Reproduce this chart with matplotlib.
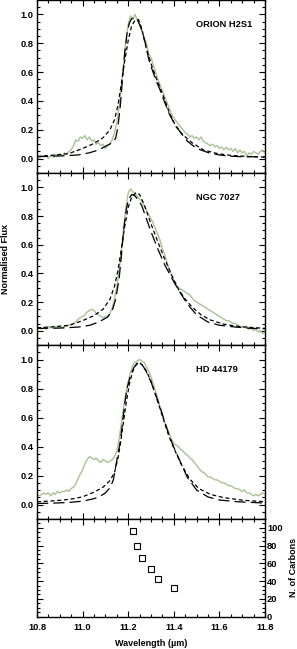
import numpy as np
import matplotlib
matplotlib.use("Agg")
import matplotlib.pyplot as plt
from matplotlib.ticker import MultipleLocator

plt.rcParams['font.family'] = ['Liberation Sans', 'DejaVu Sans']

# ---------------- data ----------------
wave = np.round(np.arange(10.80, 11.8001, 0.01), 2)

orion_obs = [0.01, 0.00, 0.02, 0.01, 0.02, 0.00, 0.02, 0.01, 0.03, 0.02,
             0.03, 0.02, 0.04, 0.03, 0.05, 0.06, 0.09, 0.13, 0.12, 0.15,
             0.14, 0.16, 0.13, 0.15, 0.12, 0.13, 0.10, 0.11, 0.09, 0.10,
             0.07, 0.09, 0.10, 0.13, 0.18, 0.25, 0.36, 0.50, 0.66, 0.82,
             0.93, 0.99, 0.97, 1.00, 0.96, 0.93, 0.88, 0.84, 0.80, 0.73,
             0.70, 0.65, 0.60, 0.55, 0.51, 0.47, 0.43, 0.39, 0.35, 0.31,
             0.28, 0.26, 0.24, 0.22, 0.20, 0.18, 0.17, 0.15, 0.16, 0.14,
             0.15, 0.13, 0.15, 0.12, 0.11, 0.10, 0.09, 0.10, 0.08, 0.09,
             0.07, 0.08, 0.06, 0.08, 0.06, 0.07, 0.05, 0.07, 0.04, 0.06,
             0.04, 0.05, 0.02, 0.04, 0.03, 0.05, 0.04, 0.03, 0.05, 0.06, 0.04]

ngc_obs = [0.01, 0.02, 0.01, 0.02, 0.01, 0.03, 0.02, 0.02, 0.03, 0.02,
           0.03, 0.02, 0.03, 0.03, 0.04, 0.04, 0.05, 0.06, 0.08, 0.09,
           0.10, 0.11, 0.13, 0.14, 0.15, 0.14, 0.12, 0.11, 0.10, 0.09,
           0.10, 0.10, 0.12, 0.16, 0.22, 0.31, 0.42, 0.56, 0.72, 0.86,
           0.96, 0.99, 0.97, 0.95, 0.94, 0.92, 0.90, 0.87, 0.84, 0.81,
           0.78, 0.75, 0.71, 0.67, 0.63, 0.57, 0.53, 0.48, 0.43, 0.39,
           0.35, 0.32, 0.30, 0.29, 0.28, 0.27, 0.26, 0.25, 0.23, 0.21,
           0.20, 0.19, 0.18, 0.17, 0.16, 0.15, 0.14, 0.13, 0.12, 0.11,
           0.10, 0.09, 0.08, 0.07, 0.07, 0.06, 0.05, 0.05, 0.04, 0.03,
           0.03, 0.02, 0.03, 0.01, 0.02, 0.00, 0.01, -0.01, 0.00, -0.02, -0.01]

hd_obs = [0.07, 0.06, 0.07, 0.08, 0.07, 0.08, 0.06, 0.08, 0.07, 0.09,
          0.08, 0.09, 0.09, 0.10, 0.09, 0.11, 0.12, 0.14, 0.18, 0.21,
          0.24, 0.28, 0.31, 0.33, 0.32, 0.31, 0.32, 0.30, 0.29, 0.31,
          0.30, 0.29, 0.30, 0.31, 0.33, 0.37, 0.45, 0.56, 0.67, 0.77,
          0.85, 0.91, 0.96, 0.98, 0.99, 1.00, 0.99, 0.98, 0.95, 0.92,
          0.88, 0.83, 0.78, 0.73, 0.67, 0.62, 0.57, 0.53, 0.49, 0.45,
          0.42, 0.41, 0.40, 0.38, 0.37, 0.35, 0.34, 0.32, 0.31, 0.29,
          0.27, 0.25, 0.23, 0.22, 0.21, 0.19, 0.19, 0.18, 0.17, 0.17,
          0.16, 0.15, 0.15, 0.14, 0.13, 0.13, 0.12, 0.11, 0.11, 0.10,
          0.09, 0.10, 0.08, 0.08, 0.07, 0.06, 0.07, 0.06, 0.07, 0.08, 0.07]

# model 1 (long dashes) and model 2 (short dashes): (wavelength, flux)
orion_long_w = [10.80, 10.90, 10.98, 11.03, 11.07, 11.10, 11.13, 11.145, 11.155, 11.165,
                11.175, 11.185, 11.195, 11.205, 11.215, 11.23, 11.24, 11.25, 11.26, 11.275,
                11.29, 11.30, 11.32, 11.34, 11.36, 11.38, 11.40, 11.43, 11.46, 11.50,
                11.55, 11.60, 11.65, 11.70, 11.80]
orion_long_f = [0.014, 0.018, 0.025, 0.04, 0.06, 0.085, 0.11, 0.14, 0.22, 0.36,
                0.55, 0.74, 0.87, 0.94, 0.97, 0.975, 0.965, 0.93, 0.89, 0.80,
                0.69, 0.64, 0.55, 0.475, 0.39, 0.31, 0.25, 0.18, 0.12, 0.07,
                0.042, 0.025, 0.016, 0.013, 0.012]
orion_short_w = [10.80, 10.88, 10.94, 11.00, 11.05, 11.09, 11.12, 11.14, 11.155, 11.17,
                 11.185, 11.20, 11.215, 11.23, 11.245, 11.26, 11.28, 11.30, 11.32, 11.34,
                 11.36, 11.38, 11.41, 11.44, 11.48, 11.53, 11.59, 11.65, 11.72, 11.80]
orion_short_f = [0.014, 0.025, 0.035, 0.07, 0.105, 0.145, 0.20, 0.27, 0.37, 0.52,
                 0.68, 0.82, 0.92, 0.96, 0.965, 0.90, 0.76, 0.66, 0.57, 0.49,
                 0.41, 0.32, 0.22, 0.165, 0.11, 0.06, 0.035, 0.022, 0.015, 0.01]

ngc_long_w = [10.80, 10.90, 10.98, 11.03, 11.07, 11.11, 11.13, 11.145, 11.16, 11.17,
              11.18, 11.19, 11.20, 11.215, 11.23, 11.245, 11.26, 11.28, 11.30, 11.33,
              11.36, 11.39, 11.42, 11.46, 11.50, 11.55, 11.60, 11.66, 11.73, 11.80]
ngc_long_f = [0.016, 0.018, 0.025, 0.037, 0.06, 0.095, 0.14, 0.22, 0.36, 0.52,
              0.70, 0.83, 0.91, 0.95, 0.94, 0.91, 0.87, 0.78, 0.69, 0.57,
              0.46, 0.37, 0.285, 0.185, 0.11, 0.06, 0.038, 0.027, 0.017, 0.013]
ngc_short_w = [10.80, 10.87, 10.94, 11.00, 11.05, 11.09, 11.12, 11.14, 11.155, 11.17,
               11.185, 11.20, 11.215, 11.235, 11.25, 11.27, 11.30, 11.33, 11.36, 11.39,
               11.42, 11.45, 11.48, 11.52, 11.56, 11.62, 11.69, 11.80]
ngc_short_f = [0.02, 0.027, 0.037, 0.07, 0.105, 0.15, 0.22, 0.31, 0.42, 0.57,
               0.73, 0.86, 0.93, 0.965, 0.95, 0.88, 0.745, 0.62, 0.50, 0.39,
               0.29, 0.22, 0.165, 0.11, 0.075, 0.045, 0.028, 0.016]

hd_long_w = [10.80, 10.88, 10.94, 11.00, 11.05, 11.08, 11.10, 11.12, 11.135, 11.145,
             11.155, 11.165, 11.175, 11.185, 11.195, 11.21, 11.225, 11.24, 11.25, 11.265,
             11.28, 11.30, 11.32, 11.34, 11.36, 11.38, 11.40, 11.43, 11.46, 11.50,
             11.55, 11.60, 11.68, 11.80]
hd_long_f = [0.007, 0.01, 0.014, 0.023, 0.04, 0.06, 0.08, 0.115, 0.17, 0.26,
             0.35, 0.43, 0.56, 0.70, 0.80, 0.89, 0.945, 0.975, 0.985, 0.955,
             0.915, 0.845, 0.76, 0.67, 0.57, 0.475, 0.395, 0.29, 0.185, 0.10,
             0.052, 0.031, 0.019, 0.01]
hd_short_w = [10.80, 10.86, 10.91, 10.96, 11.00, 11.05, 11.09, 11.12, 11.14, 11.155,
              11.165, 11.175, 11.19, 11.205, 11.22, 11.235, 11.25, 11.265, 11.28, 11.30,
              11.32, 11.34, 11.36, 11.38, 11.40, 11.43, 11.47, 11.51, 11.56, 11.62,
              11.70, 11.80]
hd_short_f = [0.019, 0.024, 0.03, 0.04, 0.053, 0.085, 0.12, 0.165, 0.22, 0.32,
              0.41, 0.52, 0.69, 0.83, 0.92, 0.965, 0.98, 0.955, 0.92, 0.85,
              0.755, 0.66, 0.56, 0.465, 0.39, 0.285, 0.175, 0.11, 0.07, 0.047,
              0.03, 0.019]

names = ["ORION H2S1", "NGC 7027", "HD 44179"]

peak_wave = [11.22, 11.24, 11.26, 11.30, 11.33, 11.40]
n_carbons = [96, 80, 66, 54, 42, 32]

# ---------------- figure ----------------
fig = plt.figure(figsize=(2.97, 6.49), dpi=100)
L, W = 37 / 297, 228 / 297
H = 649.0
boxes = [(0, 173), (173, 345), (345, 519), (519, 616.6)]
axes = []
for top, bot in boxes:
    axes.append(fig.add_axes([L, 1 - bot / H, W, (bot - top) / H]))

green = '#a7c396'
obs = [orion_obs, ngc_obs, hd_obs]
longs = [(orion_long_w, orion_long_f), (ngc_long_w, ngc_long_f), (hd_long_w, hd_long_f)]
shorts = [(orion_short_w, orion_short_f), (ngc_short_w, ngc_short_f), (hd_short_w, hd_short_f)]

tick_font = dict(labelsize=6.7)
for i in range(3):
    ax = axes[i]
    ax.plot(wave, obs[i], color=green, lw=1.0, zorder=2)
    ax.plot(*shorts[i], color='black', lw=0.9, dashes=(3.2, 2.2), zorder=3)
    ax.plot(*longs[i], color='black', lw=0.9, dashes=(9, 4), zorder=3)
    ax.set_xlim(10.8, 11.8)
    ax.set_ylim(-0.1, 1.1)
    ax.yaxis.set_major_locator(MultipleLocator(0.2))
    ax.yaxis.set_minor_locator(MultipleLocator(0.05))
    ax.set_yticks([0.0, 0.2, 0.4, 0.6, 0.8, 1.0])
    ax.set_yticklabels(['0.0', '0.2', '0.4', '0.6', '0.8', '1.0'], fontweight='bold')
    ax.text(11.497, 0.93, names[i], fontsize=6.7, fontweight='bold', va='center', ha='left')

axes[1].set_ylabel("Normalised Flux", fontsize=6.5, fontweight='bold')
axes[1].yaxis.set_label_coords(-0.14, 0.5)
axes[1].yaxis.label.set_va('center')

ax4 = axes[3]
ax4.plot(peak_wave, n_carbons, linestyle='none', marker='s', markersize=4.0,
         markerfacecolor='white', markeredgecolor='black', markeredgewidth=0.8)
ax4.set_xlim(10.8, 11.8)
ax4.set_ylim(0, 110)
ax4.yaxis.set_major_locator(MultipleLocator(20))
ax4.yaxis.set_minor_locator(MultipleLocator(5))
ax4.set_yticks([0, 20, 40, 60, 80, 100])
ax4.set_yticklabels(['0', '20', '40', '60', '80', '100'], fontweight='bold')
ax4.yaxis.set_label_position('right')
ax4.set_ylabel("N. of Carbons", fontsize=6.5, fontweight='bold', rotation=90)
ax4.yaxis.set_label_coords(1.123, 0.5)
ax4.yaxis.label.set_va('center')
ax4.set_xlabel("Wavelength (µm)", fontsize=6.5, fontweight='bold')
ax4.xaxis.set_label_coords(0.5, -0.272)
ax4.xaxis.label.set_va('center')

for ax in axes:
    ax.xaxis.set_major_locator(MultipleLocator(0.2))
    ax.xaxis.set_minor_locator(MultipleLocator(0.05))
    ax.tick_params(which='both', direction='in', top=True, right=True, bottom=True, left=True,
                   width=0.8, **tick_font)
    ax.tick_params(which='major', length=4.5)
    ax.tick_params(which='minor', length=2.5)
    ax.tick_params(axis='y', pad=2.5)
    for s in ax.spines.values():
        s.set_linewidth(1.0)

for ax in axes[:3]:
    ax.tick_params(labelbottom=False)

ax4.tick_params(axis='y', labelleft=False, labelright=True, pad=1.5)
ax4.tick_params(axis='x', pad=4.5)
ax4.set_xticks([10.8, 11.0, 11.2, 11.4, 11.6, 11.8])
ax4.set_xticklabels(['10.8', '11.0', '11.2', '11.4', '11.6', '11.8'], fontweight='bold')

fig.savefig("out.png", dpi=100)
